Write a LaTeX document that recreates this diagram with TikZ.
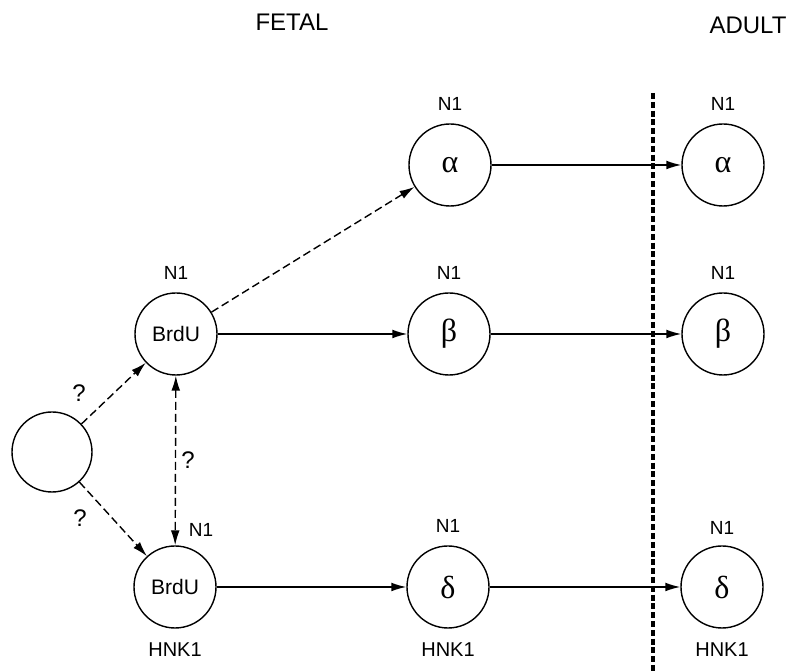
\documentclass[tikz,border=0pt]{standalone}
\usepackage{fontspec}
\setmainfont{Liberation Sans}
\newfontfamily\greekfont{Liberation Serif}
\usetikzlibrary{arrows.meta, positioning}

\begin{document}
\begin{tikzpicture}[
    x=0.5pt, y=-0.5pt,
    >={Latex[length=7.5pt, width=4.4pt]},
    cell/.style    = {circle, draw, line width=0.7pt, minimum size=41pt, inner sep=0pt},
    greek/.style   = {font=\greekfont\fontsize{16}{16}\selectfont},
    brdu/.style    = {font=\fontsize{10.5}{11}\selectfont},
    marker/.style  = {font=\fontsize{9.5}{10}\selectfont, inner sep=1pt},
    hnk/.style     = {font=\fontsize{10}{10}\selectfont, inner sep=1pt},
    query/.style   = {font=\fontsize{12}{12}\selectfont, inner sep=1pt},
    link/.style    = {line width=0.7pt, ->},
    maybe/.style   = {line width=0.7pt, ->, dash pattern=on 4pt off 2pt},
    border/.style  = {line width=1.6pt, dash pattern=on 3pt off 1.4pt},
    phase/.style   = {font=\fontsize{12}{12}\selectfont},
  ]
  \useasboundingbox (0,0) rectangle (799,672);

  % --- phase headings --------------------------------------------------------
  \node[phase] (fetal) at (292,22) {FETAL};
  \node[phase] (adult) at (748,25) {ADULT};

  % --- fetal/adult border ----------------------------------------------------
  \coordinate (btop) at (653,93);
  \coordinate (bbot) at (653,672);
  \draw[border] (btop) -- (bbot);

  % --- cells -----------------------------------------------------------------
  \node[cell, minimum size=40pt] (stem) at (52,452) {};
  \node[cell, brdu] (brduA) at (176,334) {BrdU};
  \node[cell, brdu] (brduB) at (175,587) {BrdU};

  \node[cell, greek] (alphaF) at (450,165) {α};
  \node[cell, greek] (betaF)  at (449,334) {β};
  \node[cell, greek] (deltaF) at (448,587) {δ};

  \node[cell, greek] (alphaA) at (723,165) {α};
  \node[cell, greek] (betaA)  at (723,334) {β};
  \node[cell, greek] (deltaA) at (722,587) {δ};

  % --- markers ---------------------------------------------------------------
  \foreach \c in {brduA, alphaF, betaF, alphaA, betaA, deltaF} {
    \node[marker, above=5pt of \c] (n1\c) {N1};
  }
  \node[marker, above=4pt of deltaA] (n1deltaA) {N1};
  \node[marker] (n1brduB) at (201,530) {N1};

  \foreach \c in {brduB, deltaF, deltaA} {
    \node[hnk, below=6pt of \c] (hnk\c) {HNK1};
  }

  % --- lineage connections ---------------------------------------------------
  \draw[maybe] (stem) -- (brduA);
  \draw[maybe] (stem) -- (brduB);
  \node[query] (qA) at (79,393) {?};
  \node[query] (qB) at (80,518) {?};
  \draw[maybe, <->] (brduA) -- (brduB);
  \node[query] (qC) at (188,460) {?};

  \draw[maybe] (brduA) -- (alphaF);
  \draw[link]  (brduA) -- (betaF);
  \draw[link]  (brduB) -- (deltaF);

  \draw[link] (alphaF) -- (alphaA);
  \draw[link] (betaF)  -- (betaA);
  \draw[link] (deltaF) -- (deltaA);

\end{tikzpicture}
\end{document}
